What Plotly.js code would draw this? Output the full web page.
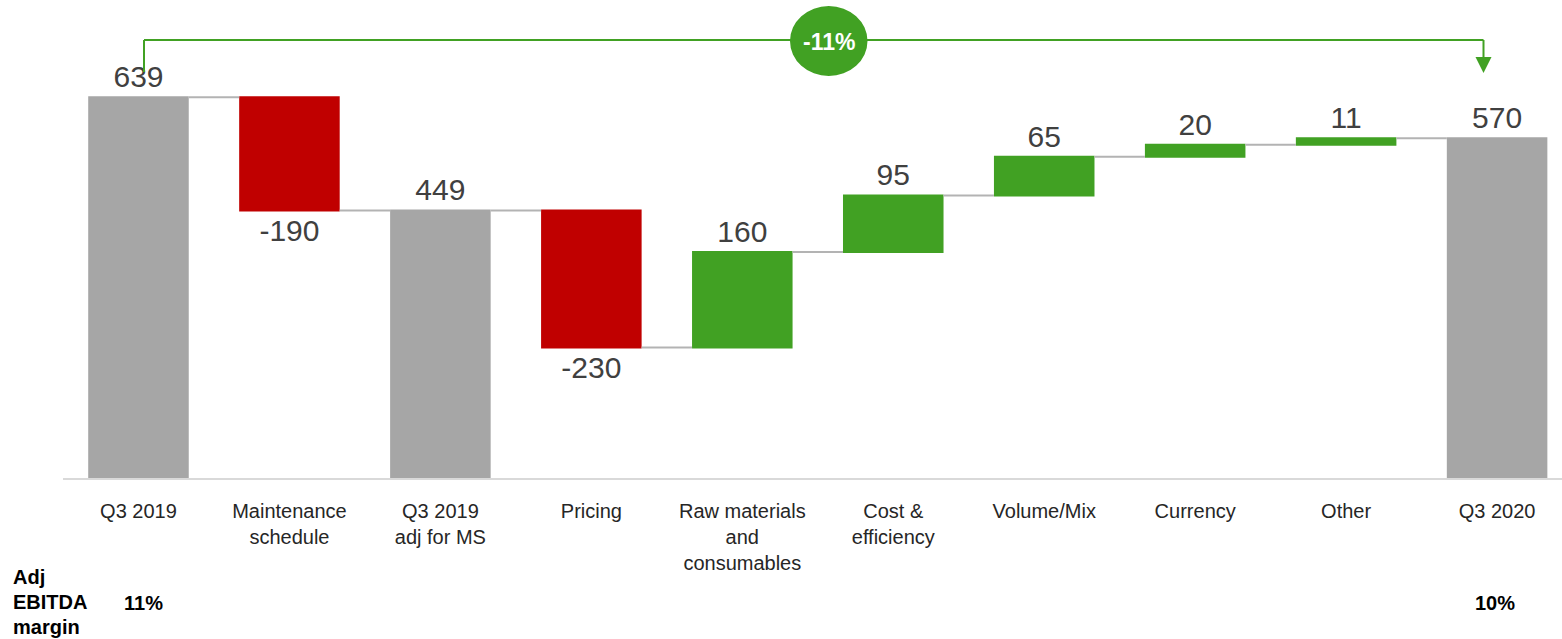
<!DOCTYPE html>
<html>
<head>
<meta charset="utf-8">
<script src="https://cdn.plot.ly/plotly-3.0.1.min.js"></script>
<style>html,body{margin:0;padding:0;background:#fff;}#chart{width:1562px;height:639px;}</style>
</head>
<body>
<div id="chart"></div>
<script>
// ---- data ----
const categories = ["Q3 2019", "Maintenance<br>schedule", "Q3 2019<br>adj for MS", "Pricing",
  "Raw materials<br>and<br>consumables", "Cost &<br>efficiency", "Volume/Mix", "Currency", "Other", "Q3 2020"];
const measures = ["absolute", "relative", "total", "relative", "relative", "relative", "relative", "relative", "relative", "total"];
const values = [639, -190, 449, -230, 160, 95, 65, 20, 11, 570];
const changeLabel = "-11%";
const marginLines = ["Adj", "EBITDA", "margin"];
const marginStart = "11%";
const marginEnd = "10%";

// ---- layout helpers (pixel -> paper) ----
const W = 1562, H = 639, ML = 63, MR = 0, MT = 0, MB = 161;
const PW = W - ML - MR, PH = H - MT - MB;
const px = x => (x - ML) / PW;
const py = y => 1 - (y - MT) / PH;

const GREEN = "#41a123", RED = "#c00000", GRAY = "#a6a6a6";
const FONT = "Liberation Sans, Arial, sans-serif";

const trace = {
  type: "waterfall",
  x: categories,
  y: values,
  measure: measures,
  text: values.map(v => String(v)),
  textposition: "outside",
  textfont: {family: FONT, size: 30, color: "#404040"},
  cliponaxis: false,
  increasing: {marker: {color: GREEN}},
  decreasing: {marker: {color: RED}},
  totals: {marker: {color: GRAY}},
  connector: {mode: "between", line: {color: "#b3b3b3", width: 2}},
  hoverinfo: "skip"
};

const green = {color: GREEN, width: 2};
const marginAnn = marginLines.map((t, i) => ({
  xref: "paper", yref: "paper", x: px(11), y: py(577 + 25 * i), text: "<b>" + t + "</b>", showarrow: false,
  font: {family: FONT, size: 20, color: "#000"}, xanchor: "left", yanchor: "middle"
}));

const layout = {
  width: W, height: H,
  margin: {l: ML, r: MR, t: MT, b: MB},
  paper_bgcolor: "#fff", plot_bgcolor: "#fff",
  showlegend: false,
  waterfallgap: 0.334,
  font: {family: FONT},
  xaxis: {
    type: "category",
    range: [-0.5, 9.43],
    showline: true, linecolor: "#d9d9d9", linewidth: 2,
    ticks: "", showgrid: false, zeroline: false,
    ticklabelstandoff: 14,
    tickfont: {family: FONT, size: 20, color: "#262626"},
    fixedrange: true
  },
  yaxis: {range: [0, 802], visible: false, showgrid: false, zeroline: false, fixedrange: true},
  shapes: [
    {type: "line", xref: "paper", yref: "paper", x0: px(144), x1: px(144), y0: py(72), y1: py(40), line: green},
    {type: "line", xref: "paper", yref: "paper", x0: px(144), x1: px(1483.5), y0: py(40), y1: py(40), line: green},
    {type: "line", xref: "paper", yref: "paper", x0: px(1483.5), x1: px(1483.5), y0: py(40), y1: py(60), line: green},
    {type: "path", xref: "paper", yref: "paper",
      path: `M ${px(1475.5)} ${py(57)} L ${px(1491.5)} ${py(57)} L ${px(1483.5)} ${py(73)} Z`,
      fillcolor: GREEN, line: {width: 0}},
    {type: "circle", xref: "paper", yref: "paper", x0: px(790), x1: px(867.5), y0: py(76), y1: py(6),
      fillcolor: GREEN, line: {width: 0}}
  ],
  annotations: [
    {xref: "paper", yref: "paper", x: px(828.7), y: py(42), text: "<b>" + changeLabel + "</b>", showarrow: false,
      font: {family: FONT, size: 23, color: "#ffffff"}, xanchor: "center", yanchor: "middle"},
    ...marginAnn,
    {xref: "paper", yref: "paper", x: px(143), y: py(603), text: "<b>" + marginStart + "</b>", showarrow: false,
      font: {family: FONT, size: 20, color: "#000"}, xanchor: "center", yanchor: "middle"},
    {xref: "paper", yref: "paper", x: px(1495), y: py(603), text: "<b>" + marginEnd + "</b>", showarrow: false,
      font: {family: FONT, size: 20, color: "#000"}, xanchor: "center", yanchor: "middle"}
  ]
};

Plotly.newPlot("chart", [trace], layout, {displayModeBar: false, staticPlot: true});
</script>
</body>
</html>
